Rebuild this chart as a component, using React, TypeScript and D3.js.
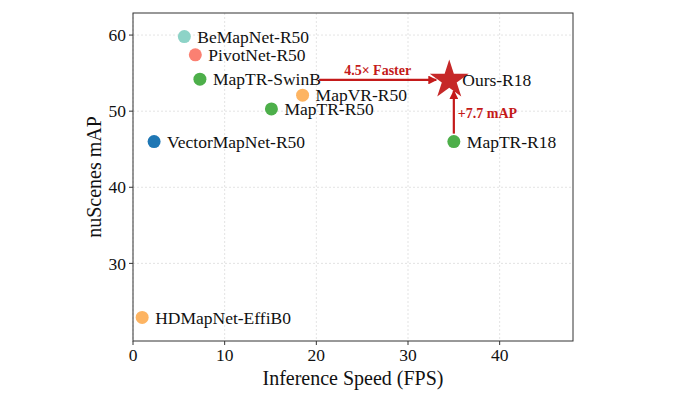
import React from "react";
import * as d3 from "d3";

const methods = ["BeMapNet-R50", "PivotNet-R50", "MapTR-SwinB", "MapVR-R50", "MapTR-R50", "VectorMapNet-R50", "HDMapNet-EffiB0", "MapTR-R18"];
const fps = [5.6, 6.8, 7.3, 18.5, 15.1, 2.3, 1.0, 35.0];
const mAP = [59.8, 57.4, 54.2, 52.1, 50.3, 46.0, 22.9, 46.0];
const colors = ["#8dd3c7", "#fb8072", "#4daf4a", "#fdb462", "#4daf4a", "#1f77b4", "#fdb462", "#4daf4a"];
const ours = { name: "Ours-R18", fps: 34.5, mAP: 54.1 };
const xTicks = [0, 10, 20, 30, 40];
const yTicks = [30, 40, 50, 60];
const fasterLabel = "4.5× Faster";
const gainLabel = "+7.7 mAP";

const W = 693, H = 397;
const m = { left: 133, right: 573, top: 13, bottom: 341 };
const FONT = "'Liberation Serif', 'DejaVu Serif', serif";
const RED = "#c41a1a";
const FS = 17.5;

export default function App() {
  const x = d3.scaleLinear().domain([0, 48]).range([m.left, m.right]);
  const y = d3.scaleLinear().domain([19.8, 62.9]).range([m.bottom, m.top]);
  const star = d3.symbol().type(d3.symbolStar).size(470)()!;
  const sx = x(ours.fps), sy = y(ours.mAP);
  const r18x = x(fps[7]), r18y = y(mAP[7]);
  const swinEnd = x(20.3);
  return (
    <svg width={W} height={H} style={{ position: "absolute", left: 0, top: 0, background: "#fff" }}>
      <defs>
        <marker id="ah" viewBox="0 0 10 10" refX="9" refY="5" markerWidth="4" markerHeight="4" orient="auto">
          <path d="M0,0 L10,5 L0,10 z" fill={RED} />
        </marker>
      </defs>
      {xTicks.map((t) => (
        <line key={"gx" + t} x1={x(t)} x2={x(t)} y1={m.top} y2={m.bottom} stroke="#dcdcdc" strokeDasharray="2,2" strokeWidth={0.8} />
      ))}
      {yTicks.map((t) => (
        <line key={"gy" + t} x1={m.left} x2={m.right} y1={y(t)} y2={y(t)} stroke="#dcdcdc" strokeDasharray="2,2" strokeWidth={0.8} />
      ))}
      {methods.map((name, i) => (
        <g key={name}>
          <circle cx={x(fps[i])} cy={y(mAP[i])} r={6.5} fill={colors[i]} />
          <text x={x(fps[i]) + 13} y={y(mAP[i])} dy="0.35em" fontFamily={FONT} fontSize={FS} fill="#111">{name}</text>
        </g>
      ))}
      <line x1={swinEnd} y1={sy} x2={sx - 13} y2={sy} stroke={RED} strokeWidth={2.2} markerEnd="url(#ah)" />
      <text x={(swinEnd + sx - 13) / 2} y={sy - 5} textAnchor="middle" fontFamily={FONT} fontWeight="bold" fontSize={14} fill={RED}>{fasterLabel}</text>
      <line x1={r18x} y1={r18y - 8} x2={r18x} y2={sy + 11} stroke={RED} strokeWidth={2.2} markerEnd="url(#ah)" />
      <text x={r18x + 4} y={y(49.8)} dy="0.35em" fontFamily={FONT} fontWeight="bold" fontSize={14} fill={RED}>{gainLabel}</text>
      <path d={star} transform={`translate(${sx},${sy})`} fill="#c62828" />
      <text x={sx + 13} y={sy} dy="0.35em" fontFamily={FONT} fontSize={FS} fill="#111">{ours.name}</text>
      <rect x={m.left} y={m.top} width={m.right - m.left} height={m.bottom - m.top} fill="none" stroke="#333" strokeWidth={1} />
      {xTicks.map((t) => (
        <g key={"xt" + t}>
          <line x1={x(t)} x2={x(t)} y1={m.bottom} y2={m.bottom + 4} stroke="#333" />
          <text x={x(t)} y={m.bottom + 20} textAnchor="middle" fontFamily={FONT} fontSize={FS} fill="#111">{t}</text>
        </g>
      ))}
      {yTicks.map((t) => (
        <g key={"yt" + t}>
          <line x1={m.left - 4} x2={m.left} y1={y(t)} y2={y(t)} stroke="#333" />
          <text x={m.left - 7} y={y(t)} dy="0.35em" textAnchor="end" fontFamily={FONT} fontSize={FS} fill="#111">{t}</text>
        </g>
      ))}
      <text x={(m.left + m.right) / 2} y={385} textAnchor="middle" fontFamily={FONT} fontSize={20} fill="#111">Inference Speed (FPS)</text>
      <text transform={`translate(101,${(m.top + m.bottom) / 2}) rotate(-90)`} textAnchor="middle" fontFamily={FONT} fontSize={20} fill="#111">nuScenes mAP</text>
    </svg>
  );
}
